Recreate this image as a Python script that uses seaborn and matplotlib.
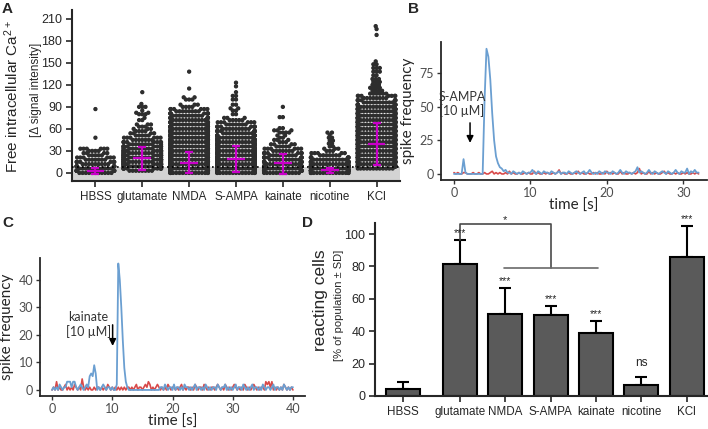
import matplotlib
matplotlib.use("Agg")
import matplotlib.pyplot as plt
import matplotlib.patheffects as pe
import seaborn as sns
import numpy as np
import pandas as pd

groups = ["HBSS", "glutamate", "NMDA", "S-AMPA", "kainate", "nicotine", "KCl"]

# ---- panel A: swarm read as value levels + number of cells at each level
hbss_vals = [0, 3, 6, 9, 12, 15, 18, 21, 24, 27, 30, 33, 48, 87]
hbss_counts = [11, 11, 11, 10, 9, 8, 7, 6, 5, 4, 4, 6, 1, 1]

glu_vals = [3, 6, 9, 12, 15, 18, 21, 24, 27, 30, 33, 36, 39, 42, 45, 48, 51, 54, 57, 60,
            63, 66, 72, 75, 80, 82, 85, 90, 94, 110]
glu_counts = [8, 11, 13, 14, 14, 14, 14, 13, 13, 12, 11, 10, 9, 8, 7, 6, 5, 4, 4, 3,
              3, 3, 2, 1, 3, 2, 1, 3, 1, 1]

nmda_vals = [0, 3, 6, 9, 12, 15, 18, 21, 24, 27, 30, 33, 36, 39, 42, 45, 48, 51, 54, 57,
             60, 63, 66, 69, 72, 75, 78, 81, 84, 87, 90, 93, 100, 103, 115, 138]
nmda_counts = [16, 16, 16, 16, 16, 16, 16, 16, 16, 16, 15, 15, 15, 15, 15, 14, 14, 14, 13, 13,
               13, 12, 12, 11, 11, 10, 10, 9, 8, 6, 4, 3, 3, 2, 1, 1]

ampa_vals = [0, 3, 6, 9, 12, 15, 18, 21, 24, 27, 30, 33, 36, 39, 42, 45, 48, 51, 54, 57,
             60, 63, 66, 69, 72, 75, 80, 85, 88, 93, 100, 105, 110, 118, 123]
ampa_counts = [15, 15, 15, 15, 15, 15, 15, 15, 14, 14, 14, 14, 13, 13, 13, 12, 12, 11, 10, 10,
               9, 8, 7, 6, 5, 3, 2, 2, 2, 2, 2, 2, 1, 1, 1]

kain_vals = [0, 3, 6, 9, 12, 15, 18, 21, 24, 27, 30, 33, 36, 39, 42, 45, 48, 51, 55, 58,
             61, 76, 90]
kain_counts = [12, 12, 12, 11, 11, 10, 10, 9, 9, 8, 7, 6, 5, 4, 3, 3, 2, 2, 4, 3,
               2, 2, 1]

nic_vals = [0, 3, 6, 9, 12, 15, 18, 21, 24, 27, 30, 33, 36, 40, 44, 48, 52, 55]
nic_counts = [16, 16, 16, 16, 15, 13, 11, 9, 7, 5, 3, 3, 2, 2, 2, 2, 1, 2]

kcl_vals = [6, 9, 12, 15, 18, 21, 24, 27, 30, 33, 36, 39, 42, 45, 48, 51, 54, 57, 60, 63,
            66, 69, 72, 75, 78, 81, 84, 87, 90, 93, 96, 99, 102, 105, 108,
            112, 116, 120, 124, 128, 133, 138, 143, 148, 152, 188, 196, 200]
kcl_counts = [12, 13, 14, 14, 14, 14, 14, 14, 14, 14, 14, 14, 14, 14, 14, 14, 14, 14, 14, 14,
              14, 14, 14, 13, 13, 13, 13, 12, 12, 11, 10, 9, 8, 7, 6,
              4, 4, 3, 3, 3, 2, 3, 3, 2, 1, 1, 1, 1]

# magenta median with interquartile range
a_median = [2, 20, 14, 19, 13, 4, 40]
a_q1 = [-1, 4, 0, 1, -1, 0, 11]
a_q3 = [7, 36, 28, 37, 26, 7, 68]
a_threshold = 8.5

# ---- panel B: S-AMPA trace, one sample every 0.25 s
dt = 0.25
b_blue = [0, 0, 0, 0, 0, 11, 1, 0, 0, 0, 0, 0, 0, 0, 0, 0,
          55, 93, 87, 70, 45, 25, 13, 8, 5, 4, 2, 3, 1,
          1, 0, 2, 1, 0, 1, 0, 2, 1, 0, 1, 1,
          3, 1, 0, 2, 1, 0, 2, 1, 1, 0, 2, 1,
          0, 1, 2, 0, 1, 1, 0, 2, 1, 0, 1, 2,
          1, 0, 1, 2, 0, 1, 3, 1, 0, 1, 0, 2,
          1, 0, 2, 1, 1, 0, 2, 1, 0, 1, 3, 1,
          0, 2, 1, 1, 0, 1, 2, 5, 1, 2, 1, 0,
          1, 3, 1, 0, 2, 1, 0, 1, 2, 1, 0, 2,
          1, 0, 1, 3, 1, 0, 2, 1, 1, 4, 0, 2,
          1, 3, 1, 1]
b_red = [1, 0, 1, 0, 0, 1, 1, 0, 0, 0, 1, 0,
         0, 1, 0, 0, 1, 0, 0, 1, 2, 0, 1, 0,
         1, 0, 0, 1, 0, 2, 0, 1, 0, 0, 1, 0,
         0, 1, 0, 1, 0, 0, 2, 0, 1, 0, 0, 1,
         0, 1, 0, 0, 1, 0, 1, 3, 0, 1, 0, 0,
         1, 0, 0, 1, 0, 2, 0, 1, 0, 0, 1, 0,
         0, 1, 0, 1, 0, 0, 1, 0, 2, 0, 1, 0,
         1, 0, 0, 2, 0, 1, 0, 0, 1, 0, 1, 0,
         1, 4, 0, 1, 0, 0, 2, 0, 1, 0, 1, 0,
         0, 1, 2, 0, 1, 0, 0, 1, 0, 1, 0, 0,
         1, 0, 1, 0, 0, 1, 0, 1, 0]

# ---- panel C: kainate trace, one sample every 0.25 s
c_blue = [0, 1, 0, 1, 0, 2, 1, 0, 1, 1,
          3, 3, 3, 1, 3, 3, 1,
          0, 1, 2, 1, 0, 1, 2, 1,
          5, 6, 5, 9, 6, 0,
          1, 0, 1, 2, 1, 0, 1, 1, 0, 1, 0, 0,
          2, 46, 40, 30, 18, 8, 3, 1,
          0, 0, 0, 0, 0, 0, 0, 0, 0, 0, 0, 0, 0, 0, 0, 0, 0, 0, 0, 0, 0, 1,
          1, 0, 2, 1, 0, 1, 1, 0, 2, 0, 1, 1,
          0, 1, 0, 2, 1, 1, 0, 1, 0, 1, 2, 0,
          1, 1, 0, 1, 0, 2, 1, 0, 1, 0, 1, 1,
          0, 2, 1, 0, 1, 1, 2, 0, 1, 0, 1, 0,
          1, 2, 0, 1, 1, 0, 2, 1, 0, 1, 0, 1,
          2, 0, 1, 1, 0, 1, 0, 2, 1, 0, 1, 1,
          0, 1, 2, 0, 1, 1, 0, 1, 0, 2, 1, 0,
          1, 0, 1, 1]
c_red = [0, 1, 0, 3, 0, 1, 0, 0, 1, 2, 0, 1,
         0, 1, 0, 2, 1, 0, 1, 0, 4, 1, 0, 1,
         0, 1, 0, 0, 1, 0, 1, 1, 0, 1, 0, 1,
         0, 2, 1, 0, 1, 0, 1, 0, 1, 0, 1, 0,
         1, 0, 1, 1, 0, 1, 0, 1, 2, 0, 1, 1,
         0, 1, 2, 1, 3, 2, 0, 1, 0, 1, 2, 1,
         0, 1, 0, 1, 0, 2, 1, 0, 1, 1, 0, 1,
         0, 1, 2, 0, 1, 0, 1, 1, 0, 1, 0, 2,
         1, 0, 1, 1, 0, 2, 1, 0, 1, 0, 1, 1,
         0, 1, 2, 1, 0, 1, 0, 2, 1, 0, 1, 0,
         1, 2, 1, 0, 1, 0, 1, 0, 2, 1, 0, 1,
         0, 1, 2, 1, 0, 1, 0, 1, 1, 0, 3, 2,
         3, 1, 3, 0, 1, 0, 1, 0, 1, 0, 2, 1,
         0, 1, 0, 1, 0]

# ---- panel D: reacting cells
d_mean = [4.1, 81.5, 50.6, 50, 38.7, 6.8, 85.6]
d_sd = [4.7, 14.5, 16.1, 5.6, 7.6, 5.1, 19.4]
d_stars = ["", "***", "***", "***", "***", "ns", "***"]

blue = "#6b9fd1"
red = "#d84a4a"
magenta = "#c800c8"
dot = "#2e2e2e"

sns.set_style("ticks")
plt.rcParams['font.family'] = ['Liberation Sans', 'DejaVu Sans']
plt.rcParams['mathtext.default'] = 'regular'
cal = ['Lato', 'DejaVu Sans']

fig = plt.figure(figsize=(7.08, 4.29), dpi=100)
W, H = 708, 429


def box(l, t, r, b):
    return [l / W, 1 - b / H, (r - l) / W, (b - t) / H]


axA = fig.add_axes(box(72, 10, 400, 181))
axB = fig.add_axes(box(441, 42, 707, 180))
axC = fig.add_axes(box(40, 258, 305, 396))
axD = fig.add_axes(box(375, 223, 707, 396))

# ---------------- A
# groups sit 0.8 apart so the swarms come out narrower (seaborn uses 0.8 of the spacing)
step = 0.8
xa = np.arange(len(groups)) * step
all_vals = [hbss_vals, glu_vals, nmda_vals, ampa_vals, kain_vals, nic_vals, kcl_vals]
all_counts = [hbss_counts, glu_counts, nmda_counts, ampa_counts, kain_counts, nic_counts, kcl_counts]
swarm = pd.DataFrame({
    "pos": np.concatenate([np.repeat(p, sum(c)) for p, c in zip(xa, all_counts)]),
    "value": np.concatenate([np.repeat(v, c) for v, c in zip(all_vals, all_counts)]),
})
axA.axhspan(-11, a_threshold, color="#d3d3d3", lw=0, zorder=0)
sns.swarmplot(data=swarm, x="pos", y="value", native_scale=True, orient="x", color=dot,
              size=2.2, ax=axA, warn_thresh=1, zorder=2)
# swarm packs the dots by their core size; a stroke fattens them so the dense part reads solid
for coll in axA.collections:
    coll.set_path_effects([pe.Stroke(linewidth=0.9, foreground=dot), pe.Normal()])
axA.axhline(a_threshold, ls=(0, (1, 2)), color="k", lw=1.2, zorder=3)
med = np.array(a_median)
axA.errorbar(xa, med, yerr=[med - np.array(a_q1), np.array(a_q3) - med], fmt="none",
             ecolor=magenta, elinewidth=1.6, capsize=3, capthick=1.6, zorder=5)
axA.hlines(med, xa - 0.19 * step, xa + 0.19 * step, color=magenta, lw=1.6, zorder=5)
axA.set_xlim(-0.5 * step, 6.5 * step)
axA.set_ylim(-11, 222)
axA.set_xticks(xa, groups)
axA.set_yticks(range(0, 211, 30))
axA.set_xlabel("")
axA.set_ylabel("")
axA.tick_params(labelsize=8.4, length=4, width=1.2, pad=3)
axA.tick_params(axis="y", labelsize=9)
sns.despine(ax=axA)
for s in ["left", "bottom"]:
    axA.spines[s].set_linewidth(1.5)
fig.text(12 / W, 1 - 96 / H, "Free intracellular Ca$^{2+}$", rotation=90, fontsize=11,
         ha="center", va="center")
fig.text(36 / W, 1 - 90 / H, "[\u0394 signal intensity]", rotation=90, fontsize=8.5,
         ha="center", va="center")


# ---------------- B and C
def trace_axis(ax, red_vals, blue_vals):
    t_red = np.arange(len(red_vals)) * dt
    t_blue = np.arange(len(blue_vals)) * dt
    sns.lineplot(x=t_red, y=red_vals, ax=ax, color=red, lw=1.2)
    sns.lineplot(x=t_blue, y=blue_vals, ax=ax, color=blue, lw=1.3)
    sns.despine(ax=ax)
    for s in ["left", "bottom"]:
        ax.spines[s].set_linewidth(1.3)
    ax.tick_params(labelsize=9, length=3, width=1, colors="#333333", labelcolor="#4d4d4d", pad=2)
    ax.set_xlabel("time [s]", fontsize=11, family=cal, labelpad=0)
    ax.set_ylabel("spike frequency", fontsize=11, family=cal, labelpad=3)


trace_axis(axB, b_red, b_blue)
axB.set_xlim(-1.7, 33.1)
axB.set_ylim(-4.5, 98)
axB.set_xticks([0, 10, 20, 30])
axB.set_yticks([0, 25, 50, 75])
axB.text(1.05, 52, "S-AMPA\n[10 \u00b5M]", ha="center", va="center", fontsize=9,
         family=cal, color="#333333", linespacing=1.15)
axB.annotate("", xy=(2.1, 21), xytext=(2.1, 40),
             arrowprops=dict(arrowstyle="-|>", color="k", lw=1.1, mutation_scale=10))

trace_axis(axC, c_red, c_blue)
axC.set_xlim(-2, 42)
axC.set_ylim(-2.2, 48)
axC.set_xticks([0, 10, 20, 30, 40])
axC.set_yticks([0, 10, 20, 30, 40])
axC.text(6.0, 23.8, "kainate\n[10 \u00b5M]", ha="center", va="center", fontsize=9,
         family=cal, color="#333333", linespacing=1.15)
axC.annotate("", xy=(10.06, 15), xytext=(10.06, 24.7),
             arrowprops=dict(arrowstyle="-|>", color="k", lw=1.1, mutation_scale=10))
for ax in (axB, axC):
    for lab in ax.get_xticklabels() + ax.get_yticklabels():
        lab.set_family(cal)

# ---------------- D  (HBSS bar stands a little apart from the others)
d_pos = np.array([0] + [1.25 + i for i in range(len(groups) - 1)])
sns.barplot(x=d_pos, y=d_mean, native_scale=True, width=0.75, color="#5a5a5a",
            saturation=1, edgecolor="k", linewidth=1.5, errorbar=None, ax=axD, zorder=2)
axD.errorbar(d_pos, d_mean, yerr=[np.zeros(len(d_sd)), d_sd], fmt="none", ecolor="k",
             elinewidth=1.5, capsize=4.5, capthick=1.5, zorder=1)
for x, m, s, lab in zip(d_pos, d_mean, d_sd, d_stars):
    if lab:
        axD.text(x, m + s + (2.5 if lab == "***" else 6.5), lab, ha="center", va="baseline",
                 fontsize=7.5 if lab == "***" else 8.5, clip_on=False, zorder=4)
top = d_mean[1] + d_sd[1]
axD.plot([d_pos[1], d_pos[1], d_pos[3], d_pos[3]], [top, 106, 106, 78.8], color="#4a4a4a",
         lw=1.2, clip_on=False, zorder=3)
axD.plot([d_pos[2] - 0.03, d_pos[4] + 0.05], [78.8, 78.8], color="#6a6a6a", lw=1.2, zorder=3)
axD.text((d_pos[1] + d_pos[3]) / 2, 106.8, "*", ha="center", va="baseline", fontsize=8,
         clip_on=False)
axD.set_xlim(-0.62, 6.7)
axD.set_ylim(0, 106.8)
axD.set_yticks(range(0, 101, 20))
axD.set_xticks(d_pos, groups)
axD.tick_params(labelsize=8.4, length=4, width=1.2, pad=3)
axD.tick_params(axis="y", labelsize=9)
sns.despine(ax=axD)
for s in ["left", "bottom"]:
    axD.spines[s].set_linewidth(1.5)
fig.text(320 / W, 1 - 300 / H, "reacting cells", rotation=90, fontsize=12.5,
         ha="center", va="center")
fig.text(339 / W, 1 - 305 / H, "[% of population \u00b1 SD]", rotation=90, fontsize=8,
         ha="center", va="center")

# panel letters
for x, y, s in [(2, 2, "A"), (408, 2, "B"), (2, 216, "C"), (302, 216, "D")]:
    fig.text(x / W, 1 - y / H, s, fontsize=11, fontweight="bold", ha="left", va="top")

fig.savefig("out.png", dpi=100)
